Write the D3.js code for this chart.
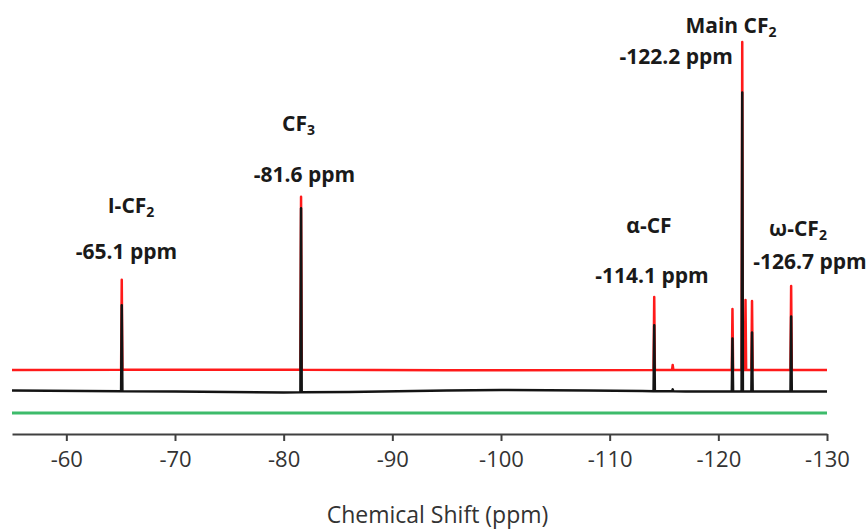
<!DOCTYPE html>
<html>
<head>
<meta charset="utf-8">
<script src="https://cdn.jsdelivr.net/npm/d3@7"></script>
<style>
  html, body { margin: 0; padding: 0; background: #fff; }
  svg { display: block; }
</style>
</head>
<body>
<svg id="chart" width="868" height="529"></svg>
<script>
// ---------------- data ----------------
const xDomain = [-55, -130];
const tickValues = [-60, -70, -80, -90, -100, -110, -120, -130];
const tickLabels = ["-60", "-70", "-80", "-90", "-100", "-110", "-120", "-130"];
const axisTitle = "Chemical Shift (ppm)";

// peak positions (ppm) and heights (intensity units) of the two spectra
const peakPpm      = [-65.1, -81.6, -114.1, -115.8, -121.3, -122.2, -122.5, -123.1, -126.7];
const redHeights   = [90,    173,   73,     5,      61,     328,    70,     69,     84];
const blackHeights = [86,    184,   66,     2,      53,     299,    0,      59,     75];

// baseline levels of each trace (ppm, intensity)
const redBaseline   = [[-55, 64], [-75, 64.3], [-95, 63.8], [-115, 64], [-130, 64]];
const blackBaseline = [[-55, 43.5], [-70, 42.5], [-80, 41.5], [-86, 42], [-95, 43.5], [-100, 44], [-108, 43.5], [-113, 43], [-117, 42.5], [-130, 42.5]];
const greenBaseline = [[-55, 21], [-130, 21]];

// annotations
const labelNames  = ["I-CF", "CF", "α-CF", "Main CF", "ω-CF"];
const labelSubs   = ["2", "3", "", "2", "2"];
const labelShifts = ["-65.1 ppm", "-81.6 ppm", "-114.1 ppm", "-122.2 ppm", "-126.7 ppm"];
// layout of annotations: [name x, name baseline, shift x, shift baseline, shift anchor]
const labelLayout = [
  [131, 213, 126.5, 259, "middle"],
  [298.5, 131, 304.5, 182, "middle"],
  [649, 233, 652, 283, "middle"],
  [731, 33, 733, 64, "end"],
  [798, 236, 810, 269, "middle"]
];

// ---------------- drawing ----------------
const svg = d3.select("#chart");
const x = d3.scaleLinear().domain(xDomain).range([12, 827]);
const y = d3.scaleLinear().domain([0, 400]).range([434, 34]);

function tracePoints(baseline, heights) {
  const base = d3.scaleLinear()
    .domain(baseline.map(d => d[0]))
    .range(baseline.map(d => d[1]));
  const w = 0.06;
  let pts = baseline.map(d => [d[0], d[1]]);
  peakPpm.forEach((p, i) => {
    const h = heights[i];
    if (h <= 0) return;
    pts.push([p + w, base(p + w)]);
    pts.push([p, base(p) + h]);
    pts.push([p - w, base(p - w)]);
  });
  pts.sort((a, b) => b[0] - a[0]);
  return pts;
}

const line = d3.line().x(d => x(d[0])).y(d => y(d[1]));

// green trace
svg.append("path")
  .attr("d", line(greenBaseline))
  .attr("fill", "none")
  .attr("stroke", "#3dbb6b")
  .attr("stroke-width", 3);

// red trace
svg.append("path")
  .attr("d", line(tracePoints(redBaseline, redHeights)))
  .attr("fill", "none")
  .attr("stroke", "#ff1a1a")
  .attr("stroke-width", 2.5)
  .attr("stroke-linejoin", "round");

// black trace
svg.append("path")
  .attr("d", line(tracePoints(blackBaseline, blackHeights)))
  .attr("fill", "none")
  .attr("stroke", "#141414")
  .attr("stroke-width", 2.5)
  .attr("stroke-linejoin", "round");

// x axis
const axis = d3.axisBottom(x)
  .tickValues(tickValues)
  .tickFormat((d, i) => tickLabels[i])
  .tickSizeInner(7)
  .tickSizeOuter(0)
  .tickPadding(10);

const gAxis = svg.append("g")
  .attr("transform", `translate(0,${y(0)})`)
  .call(axis);
gAxis.select(".domain").attr("stroke", "#404040").attr("stroke-width", 2);
gAxis.selectAll(".tick line").attr("stroke", "#404040").attr("stroke-width", 2);
gAxis.selectAll(".tick text")
  .attr("fill", "#333")
  .attr("font-family", "'Open Sans', sans-serif")
  .attr("font-size", 22)
  .attr("dy", "0.72em");

svg.append("text")
  .attr("x", 437.5)
  .attr("y", 523)
  .attr("text-anchor", "middle")
  .attr("font-family", "'Open Sans', sans-serif")
  .attr("font-size", 23)
  .attr("fill", "#333")
  .text(axisTitle);

// annotations
labelNames.forEach((name, i) => {
  const L = labelLayout[i];
  const t = svg.append("text")
    .attr("x", L[0])
    .attr("y", L[1])
    .attr("text-anchor", "middle")
    .attr("font-family", "'Open Sans', sans-serif")
    .attr("font-weight", 700)
    .attr("font-size", 21)
    .attr("fill", "#1a1a1a");
  t.append("tspan").text(name);
  if (labelSubs[i]) {
    t.append("tspan")
      .attr("font-size", 14)
      .attr("dy", 4)
      .text(labelSubs[i]);
  }
  svg.append("text")
    .attr("x", L[2])
    .attr("y", L[3])
    .attr("text-anchor", L[4])
    .attr("font-family", "'Open Sans', sans-serif")
    .attr("font-weight", 700)
    .attr("font-size", 21)
    .attr("fill", "#1a1a1a")
    .text(labelShifts[i]);
});
</script>
</body>
</html>
